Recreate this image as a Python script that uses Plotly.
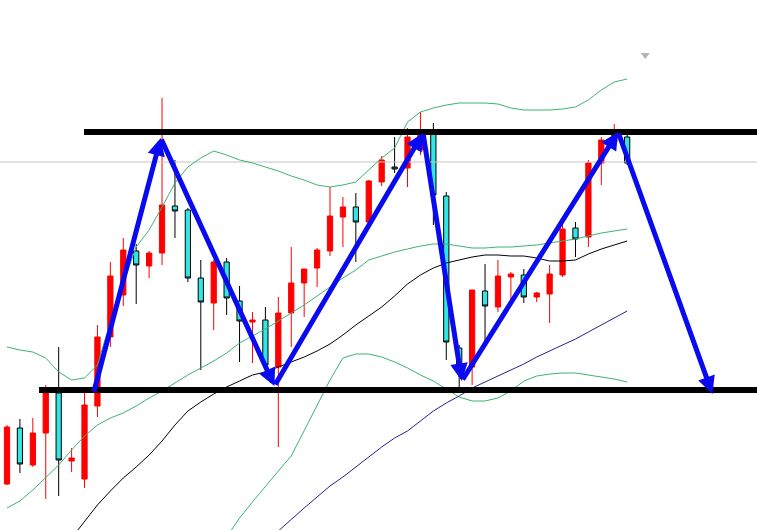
import plotly.graph_objects as go

# ---- data (price units) ----
idx = list(range(49))

opens = [116,172,135,167,207,139,121,194,263,305,349,334,347,394,390,322,297,338,299,278,
         280,233,287,317,332,349,383,393,378,418,433,432,450,467,404,252,233,309,293,323,
         325,303,306,325,372,363,437,458,463]
highs = [175,181,182,215,253,152,207,275,338,362,356,349,502,440,392,340,340,342,314,288,
         293,303,353,331,352,413,403,407,420,444,463,472,488,477,408,255,310,336,340,328,
         331,308,335,383,378,440,463,476,467]
lows = [115,127,133,101,104,128,112,183,253,294,296,322,335,362,318,230,270,285,238,237,
        230,153,253,283,313,344,353,338,375,414,427,413,445,375,240,212,215,255,288,300,
        297,298,277,323,343,353,415,455,435]
closes = [173,136,167,207,140,142,195,263,324,350,335,347,395,389,322,298,338,302,279,280,
          235,287,317,331,350,384,393,378,419,440,431,463,467,405,258,228,310,294,324,326,
          303,307,326,371,361,437,460,468,437]

bb_upper = [253,250,248,242,228,220,222,235,278,317,353,370,393,417,433,442,449,445,440,437,
            433,429,424,420,415,413,415,418,430,442,452,478,488,492,495,497,497,497,496,492,
            490,490,490,491,493,500,510,518,521]
bb_middle = [92,99,110,122,135,150,164,175,182,187,194,202,209,217,225,232,239,247,257,264,
             271,279,287,295,304,313,322,330,340,344,348,351,354,356,356,354,352,352,353,353,
             354,355,357,359,361,364,367,369,371]
bb_lower_idx = list(range(17, 49))
bb_lower = [63,82,98,114,129,144,169,194,220,242,246,246,243,238,232,225,219,211,203,199,
            199,202,209,219,224,226,227,227,225,223,221,218]
ma_black_idx = list(range(5, 49))
ma_black = [62,79,95,109,122,133,145,159,175,189,198,206,213,219,225,228,233,238,243,249,
            256,265,275,284,293,304,316,325,332,337,340,343,345,345,344,344,342,339,339,340,
            346,351,355,359]
ma_navy_idx = list(range(21, 49))
ma_navy = [69,81,92,103,114,123,133,143,153,162,169,179,189,197,204,212,218,224,230,236,
           243,249,255,261,268,275,282,289]

resistance = 468
support = 210
resistance_start = 5.96
support_start = 2.48
bid_level = 438
shift_marker = (49.4, 545)

zz_x = [6.7, 11.9, 20.7, 32.2, 35.2, 47.3, 54.6]
zz_y = [207, 462, 214, 467, 219, 468, 206]

X_MIN, X_MAX = -0.542, 58.05
Y_MIN, Y_MAX = 70, 600

# ---- figure ----
fig = go.Figure()

green = '#3CB371'
fig.add_trace(go.Scatter(x=[X_MIN - 1, X_MAX + 1], y=[bid_level, bid_level], mode='lines',
                         line=dict(color='#C4C4C4', width=1), hoverinfo='skip'))
fig.add_trace(go.Scatter(x=idx, y=bb_upper, mode='lines', line=dict(color=green, width=1)))
fig.add_trace(go.Scatter(x=idx, y=bb_middle, mode='lines', line=dict(color=green, width=1)))
fig.add_trace(go.Scatter(x=bb_lower_idx, y=bb_lower, mode='lines', line=dict(color=green, width=1)))
fig.add_trace(go.Scatter(x=ma_black_idx, y=ma_black, mode='lines', line=dict(color='#000000', width=1)))
fig.add_trace(go.Scatter(x=ma_navy_idx, y=ma_navy, mode='lines', line=dict(color='#23238E', width=1)))

fig.add_trace(go.Candlestick(
    x=idx, open=opens, high=highs, low=lows, close=closes,
    increasing=dict(line=dict(color='#FF0000', width=1), fillcolor='#FF0000'),
    decreasing=dict(line=dict(color='#000000', width=1), fillcolor='#33E6E6'),
    whiskerwidth=0,
))

fig.add_trace(go.Scatter(x=[resistance_start, X_MAX + 2], y=[resistance, resistance], mode='lines',
                         line=dict(color='#000000', width=6)))
fig.add_trace(go.Scatter(x=[support_start, X_MAX + 2], y=[support, support], mode='lines',
                         line=dict(color='#000000', width=6)))

fig.add_trace(go.Scatter(x=[shift_marker[0]], y=[shift_marker[1]], mode='markers',
                         marker=dict(symbol='triangle-down', size=8, color='#B4B4B4')))

for k in range(len(zz_x) - 1):
    fig.add_annotation(x=zz_x[k + 1], y=zz_y[k + 1], ax=zz_x[k], ay=zz_y[k],
                       xref='x', yref='y', axref='x', ayref='y',
                       showarrow=True, arrowhead=2, arrowsize=0.7, arrowwidth=5,
                       arrowcolor='#0A0AF0', text='', standoff=0)

fig.update_layout(
    width=757, height=530,
    margin=dict(l=0, r=0, t=0, b=0),
    paper_bgcolor='white', plot_bgcolor='white',
    showlegend=False,
    boxgap=0.42,
    xaxis=dict(range=[X_MIN, X_MAX], visible=False, rangeslider=dict(visible=False), fixedrange=True),
    yaxis=dict(range=[Y_MIN, Y_MAX], visible=False, fixedrange=True),
)

fig.write_html("out.html",
               config=dict(displayModeBar=False),
               post_script="document.body.style.margin='0';document.body.style.overflow='hidden';")
